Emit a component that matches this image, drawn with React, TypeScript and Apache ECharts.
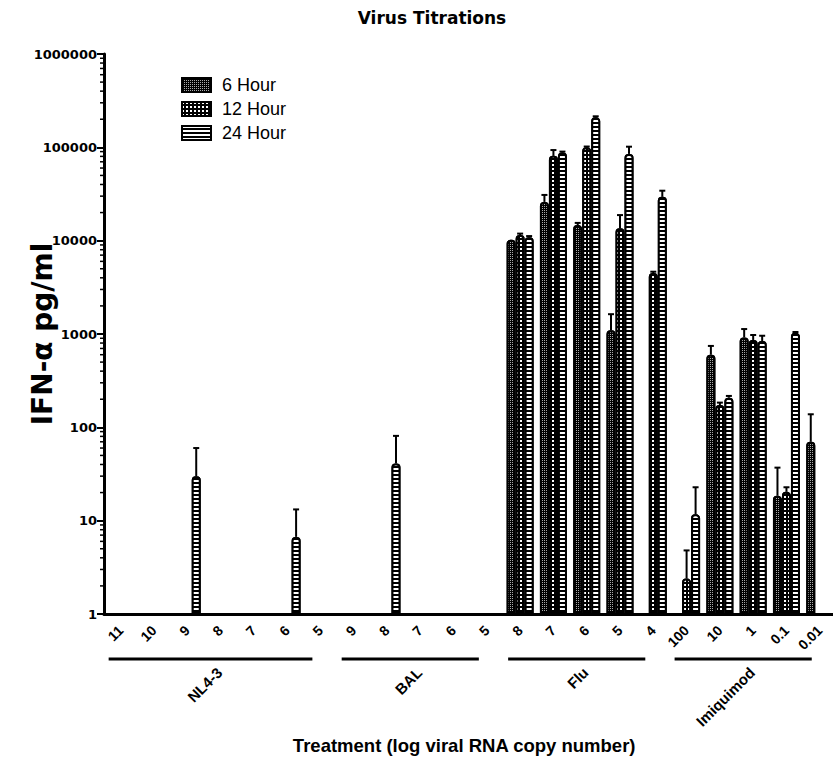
import React, { useEffect, useRef } from "react";
import * as echarts from "echarts";

const CATEGORIES = ["11", "10", "9", "8", "7", "6", "5", "9", "8", "7", "6", "5", "8", "7", "6", "5", "4", "100", "10", "1", "0.1", "0.01"];
const SERIES_NAMES = ["6 Hour", "12 Hour", "24 Hour"];

const HOUR_6 = [null, null, null, null, null, null, null, null, null, null, null, null, 10200, 26000, 14700, 1100, null, null, 600, 920, 18.5, 70];
const HOUR_12 = [null, null, null, null, null, null, null, null, null, null, null, null, 11500, 81000, 100000, 13600, 4500, 2.4, 173, 863, 20.4, null];
const HOUR_24 = [null, null, 30, null, null, 6.7, null, null, 41, null, null, null, 10900, 88000, 210000, 85000, 29500, 11.7, 208, 841, 1030, null];

// upper end of error bars (mean + SD)
const ERR_6 = [null, null, null, null, null, null, null, null, null, null, null, null, null, 30900, 15500, 1630, null, null, 745, 1130, 37, 138];
const ERR_12 = [null, null, null, null, null, null, null, null, null, null, null, null, 11900, 93500, 102000, 18800, 4650, 4.8, 184, 975, 22.8, null];
const ERR_24 = [null, null, 60, null, null, 13.2, null, null, 81, null, null, null, 11200, 90000, 215000, 101600, 34300, 22.8, 217, 958, 1050, null];

const GROUPS = ["NL4-3", "BAL", "Flu", "Imiquimod"];
const GROUP_START = [0, 7, 12, 17];
const GROUP_END = [6, 11, 16, 21];

const Y_MINOR_TICKS = [
  2, 3, 4, 5, 6, 7, 8, 9,
  20, 30, 40, 50, 60, 70, 80, 90,
  200, 300, 400, 500, 600, 700, 800, 900,
  2000, 3000, 4000, 5000, 6000, 7000, 8000, 9000,
  20000, 30000, 40000, 50000, 60000, 70000, 80000, 90000,
  200000, 300000, 400000, 500000, 600000, 700000, 800000, 900000,
];

const FONT = "'Liberation Sans', Arial, sans-serif";
const WIDE = "'DejaVu Sans', sans-serif";
const BAR_W = 9;

const DECALS = [
  { symbol: "rect", symbolSize: 1, color: "#aaaaaa", dashArrayX: [1, 1], dashArrayY: [1, 1], maxTileWidth: 64, maxTileHeight: 64 },
  { symbol: "rect", symbolSize: 1, color: "#ffffff", dashArrayX: [2, 2], dashArrayY: [2, 2], maxTileWidth: 64, maxTileHeight: 64 },
  { symbol: "rect", symbolSize: 1, color: "#ffffff", dashArrayX: [[1, 0]], dashArrayY: [2, 2], maxTileWidth: 64, maxTileHeight: 64 },
];

export default function App() {
  const ref = useRef<HTMLDivElement>(null);
  useEffect(() => {
    if (!ref.current) return;
    const chart = echarts.init(ref.current, null, { renderer: "svg" });
    const values = [HOUR_6, HOUR_12, HOUR_24];
    const errs = [ERR_6, ERR_12, ERR_24];

    const barSeries = SERIES_NAMES.map((name, s) => ({
      name,
      type: "bar",
      barWidth: BAR_W,
      barGap: "0%",
      data: values[s],
      itemStyle: { color: "#000", borderColor: "#000", borderWidth: 2, borderRadius: [3, 3, 0, 0], decal: DECALS[s] },
      z: 2,
    }));

    const errSeries = SERIES_NAMES.map((name, s) => ({
      name: name + " err",
      type: "custom",
      clip: false,
      z: 3,
      data: CATEGORIES.map((_, i) => [i, values[s][i], errs[s][i]]).filter((d) => d[1] != null && d[2] != null),
      renderItem: (params: any, api: any) => {
        const cat = api.value(0);
        const base = api.coord([cat, api.value(1)]);
        const top = api.coord([cat, api.value(2)]);
        const x = base[0] + (s - 1) * BAR_W;
        return {
          type: "group",
          children: [
            { type: "line", shape: { x1: x, y1: base[1], x2: x, y2: top[1] }, style: { stroke: "#000", lineWidth: 2 } },
            { type: "line", shape: { x1: x - 3, y1: top[1], x2: x + 3, y2: top[1] }, style: { stroke: "#000", lineWidth: 2 } },
          ],
        };
      },
    }));

    const minorTickSeries = {
      name: "minor ticks",
      type: "custom",
      clip: false,
      z: 5,
      data: Y_MINOR_TICKS.map((v) => [0, v]),
      renderItem: (params: any, api: any) => {
        const y = api.coord([0, api.value(1)])[1];
        const x0 = params.coordSys.x;
        return { type: "line", shape: { x1: x0 - 4, y1: y, x2: x0, y2: y }, style: { stroke: "#000", lineWidth: 1.5 } };
      },
    };

    const groupSeries = {
      name: "groups",
      type: "custom",
      clip: false,
      z: 5,
      data: GROUPS.map((_, i) => [GROUP_START[i], 1]),
      renderItem: (params: any, api: any) => {
        const i = params.dataIndex;
        const a = api.coord([GROUP_START[i], 1]);
        const b = api.coord([GROUP_END[i], 1]);
        const x1 = a[0] - 12;
        const x2 = b[0] - 8;
        const y = a[1] + 45;
        const cx = (x1 + x2) / 2;
        return {
          type: "group",
          children: [
            { type: "line", shape: { x1, y1: y, x2, y2: y }, style: { stroke: "#000", lineWidth: 3 } },
            {
              type: "text",
              x: cx + 9,
              y: y + 11,
              rotation: Math.PI / 4,
              style: { text: GROUPS[i], align: "right", verticalAlign: "middle", font: `bold 15px ${FONT}`, fill: "#000" },
            },
          ],
        };
      },
    };

    chart.setOption({
      animation: false,
      backgroundColor: "#fff",
      title: {
        text: "Virus Titrations",
        left: 432,
        top: 9,
        textAlign: "center",
        padding: 0,
        textStyle: { fontFamily: WIDE, fontWeight: "bold", fontSize: 17, color: "#000" },
      },
      legend: {
        data: SERIES_NAMES,
        orient: "vertical",
        left: 181,
        top: 76,
        padding: 0,
        itemWidth: 29,
        itemHeight: 14,
        itemGap: 6,
        icon: "rect",
        selectedMode: false,
        textStyle: { fontFamily: FONT, fontSize: 18, color: "#000", padding: [0, 0, 0, 6] },
      },
      grid: { left: 104, top: 54, width: 732.4, height: 560, outerBoundsMode: "none", containLabel: false },
      xAxis: {
        type: "category",
        data: CATEGORIES,
        name: "Treatment (log viral RNA copy number)",
        nameLocation: "middle",
        nameGap: 122,
        nameMoveOverlap: false,
        nameTextStyle: { fontFamily: FONT, fontWeight: "bold", fontSize: 18.5, color: "#000", padding: [0, 12, 0, 0] },
        axisLine: { lineStyle: { color: "#000", width: 3 } },
        axisTick: { alignWithLabel: true, length: 7, lineStyle: { color: "#000", width: 3 } },
        axisLabel: { rotate: 45, margin: 14, interval: 0, fontFamily: FONT, fontWeight: "bold", fontSize: 14, color: "#000" },
        splitLine: { show: false },
      },
      yAxis: {
        type: "log",
        logBase: 10,
        min: 1,
        max: 1000000,
        name: "IFN-α pg/ml",
        nameLocation: "middle",
        nameRotate: 90,
        nameGap: 48,
        nameMoveOverlap: false,
        nameTextStyle: { fontFamily: WIDE, fontWeight: "bold", fontSize: 28, color: "#000" },
        axisLine: { show: true, lineStyle: { color: "#000", width: 3 } },
        axisTick: { show: true, length: 7, lineStyle: { color: "#000", width: 2 } },
        axisLabel: { margin: 7, fontFamily: WIDE, fontWeight: "bold", fontSize: 13, color: "#000", formatter: (v: number) => String(Math.round(v)) },
        splitLine: { show: false },
      },
      series: [...barSeries, ...errSeries, minorTickSeries, groupSeries],
    });
    return () => chart.dispose();
  }, []);
  return <div ref={ref} style={{ position: "fixed", left: 0, top: 0, width: 833, height: 757 }} />;
}
